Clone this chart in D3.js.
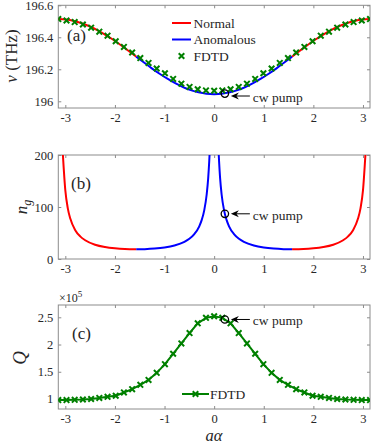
<!DOCTYPE html>
<html>
<head>
<meta charset="utf-8">
<script src="https://cdn.jsdelivr.net/npm/d3@7"></script>
<style>
  body { margin: 0; background: #fff; }
  svg text { font-family: "Liberation Serif", "DejaVu Serif", serif !important; fill: #262626; }
</style>
</head>
<body>
<div id="viz"></div>
<script>
// band diagram (a)
const bandAlpha = [-3.1416, -2.9845, -2.8274, -2.6704, -2.5133, -2.3562, -2.1991, -2.0420, -1.8850, -1.7279,
  -1.5708, -1.4137, -1.2566, -1.0996, -0.9425, -0.7854, -0.6283, -0.4712, -0.3142, -0.1571, 0,
  0.1571, 0.3142, 0.4712, 0.6283, 0.7854, 0.9425, 1.0996, 1.2566, 1.4137, 1.5708,
  1.7279, 1.8850, 2.0420, 2.1991, 2.3562, 2.5133, 2.6704, 2.8274, 2.9845, 3.1416];
const bandNu = [196.514, 196.511, 196.502, 196.488, 196.469, 196.445, 196.417, 196.386, 196.352, 196.316,
  196.279, 196.242, 196.206, 196.172, 196.141, 196.113, 196.089, 196.070, 196.056, 196.047, 196.044,
  196.047, 196.056, 196.070, 196.089, 196.113, 196.141, 196.172, 196.206, 196.242, 196.279,
  196.316, 196.352, 196.386, 196.417, 196.445, 196.469, 196.488, 196.502, 196.511, 196.514];

// FDTD samples (shared alpha grid for (a) and (c))
const fdtdAlpha = [-3.142, -2.976, -2.811, -2.646, -2.480, -2.315, -2.149, -1.984, -1.819, -1.653,
  -1.488, -1.323, -1.158, -0.992, -0.827, -0.661, -0.496, -0.331, -0.165, 0,
  0.165, 0.331, 0.496, 0.661, 0.827, 0.992, 1.158, 1.323, 1.488,
  1.653, 1.819, 1.984, 2.149, 2.315, 2.480, 2.646, 2.811, 2.976, 3.142];
const fdtdNu = [196.514, 196.505, 196.495, 196.480, 196.460, 196.435, 196.410, 196.375, 196.340, 196.305,
  196.270, 196.240, 196.205, 196.175, 196.140, 196.110, 196.090, 196.075, 196.068, 196.066,
  196.068, 196.075, 196.090, 196.110, 196.140, 196.175, 196.205, 196.240, 196.270,
  196.305, 196.340, 196.375, 196.410, 196.435, 196.460, 196.480, 196.495, 196.505, 196.514];
const fdtdQ = [0.98, 0.98, 0.985, 0.99, 1.00, 1.02, 1.04, 1.06, 1.12, 1.18,
  1.26, 1.35, 1.48, 1.64, 1.83, 2.02, 2.21, 2.39, 2.49, 2.52,
  2.49, 2.39, 2.21, 2.02, 1.83, 1.64, 1.48, 1.35, 1.26,
  1.18, 1.12, 1.06, 1.04, 1.02, 1.00, 0.99, 0.985, 0.98, 0.98];

// group index (b); null splits the two branches
const ngAlpha = [-3.049, -3.0, -2.95, -2.9, -2.8, -2.7, -2.6, -2.4, -2.2, -2.0, -1.8, -1.5708,
  -1.4, -1.2, -1.0, -0.8, -0.6, -0.5, -0.4, -0.3, -0.25, -0.2, -0.15, -0.12, -0.1, -0.093,
  null,
  0.093, 0.1, 0.12, 0.15, 0.2, 0.25, 0.3, 0.4, 0.5, 0.6, 0.8, 1.0, 1.2, 1.4,
  1.5708, 1.8, 2.0, 2.2, 2.4, 2.6, 2.7, 2.8, 2.9, 2.95, 3.0, 3.049];
const ngValue = [200, 131.8, 97.4, 77.8, 55.5, 43.5, 36.1, 27.5, 23.0, 20.5, 19.1, 18.6,
  18.9, 20.0, 22.1, 25.9, 32.9, 38.8, 47.8, 62.9, 75.2, 93.6, 124.5, 155.4, 186.4, 200,
  null,
  200, 186.4, 155.4, 124.5, 93.6, 75.2, 62.9, 47.8, 38.8, 32.9, 25.9, 22.1, 20.0, 18.9,
  18.6, 19.1, 20.5, 23.0, 27.5, 36.1, 43.5, 55.5, 77.8, 97.4, 131.8, 200];

const bandEdge = 1.5708;   // |alpha| above this is normal dispersion
const pump = { alpha: 0.216, nu: 196.048, ng: 86.9, q: 2.46 };

const xTicks = [-3, -2, -1, 0, 1, 2, 3];
const nuTicks = [196, 196.2, 196.4, 196.6];
const ngTicks = [0, 100, 200];
const qTicks = [1, 1.5, 2, 2.5];

const RED = "#ff0000", BLUE = "#0000ff", GREEN = "#008000";
const SERIF = '"Liberation Serif", "DejaVu Serif", serif';

const width = 374, height = 446;
const left = 58.3, right = 370;

const svg = d3.select("#viz").append("svg")
  .attr("width", width)
  .attr("height", height)
  .style("font-family", SERIF);

const x = d3.scaleLinear().domain([-Math.PI, Math.PI]).range([left, right]);
const tickFmt = v => String(v);   // plain hyphen minus like the original

// split consecutive points that pass a test into runs
function runs(xs, ys, test) {
  const out = [];
  let cur = [];
  xs.forEach((a, i) => {
    if (a !== null && ys[i] !== null && test(a)) {
      cur.push([a, ys[i]]);
    } else if (cur.length) {
      out.push(cur); cur = [];
    }
  });
  if (cur.length) out.push(cur);
  return out;
}

function makePanel(id, top, bottom, yDomain, yTickVals) {
  const y = d3.scaleLinear().domain(yDomain).range([bottom, top]);
  const g = svg.append("g");

  g.append("clipPath").attr("id", "clip-" + id)
    .append("rect")
    .attr("x", left).attr("y", top)
    .attr("width", right - left).attr("height", bottom - top);

  g.append("g").attr("transform", `translate(0,${bottom})`)
    .call(d3.axisBottom(x).tickValues(xTicks).tickFormat(tickFmt).tickSizeInner(-3).tickSizeOuter(0).tickPadding(5));
  g.append("g").attr("transform", `translate(0,${top})`)
    .call(d3.axisTop(x).tickValues(xTicks).tickSizeInner(-3).tickSizeOuter(0).tickFormat(""));
  g.append("g").attr("transform", `translate(${left},0)`)
    .call(d3.axisLeft(y).tickValues(yTickVals).tickFormat(tickFmt).tickSizeInner(-3).tickSizeOuter(0).tickPadding(5));
  g.append("g").attr("transform", `translate(${right},0)`)
    .call(d3.axisRight(y).tickValues(yTickVals).tickSizeInner(-3).tickSizeOuter(0).tickFormat(""));

  g.selectAll("g").attr("font-family", null).attr("font-size", null);
  g.selectAll(".domain").remove();
  g.selectAll(".tick line").attr("stroke", "#8c8c8c");
  g.selectAll(".tick text")
    .style("font-family", SERIF)
    .style("font-size", "12.5px")
    .attr("fill", "#262626");

  g.append("rect")
    .attr("x", left).attr("y", top)
    .attr("width", right - left).attr("height", bottom - top)
    .attr("fill", "none").attr("stroke", "#8c8c8c").attr("stroke-width", 1);

  const plot = g.append("g").attr("clip-path", `url(#clip-${id})`);
  return { y, g, plot };
}

function drawRuns(plot, y, xs, ys, test, color) {
  const line = d3.line().x(d => x(d[0])).y(d => y(d[1])).curve(d3.curveMonotoneX);
  runs(xs, ys, test).forEach(r => {
    plot.append("path").datum(r)
      .attr("d", line)
      .attr("fill", "none")
      .attr("stroke", color)
      .attr("stroke-width", 2);
  });
}

const cross = d3.symbol().type(d3.symbolX || d3.symbolCross).size(22);

function crosses(sel, pts, y) {
  sel.selectAll(null).data(pts).enter().append("path")
    .attr("d", cross)
    .attr("transform", d => `translate(${x(d[0])},${y(d[1])})`)
    .attr("fill", "none")
    .attr("stroke", GREEN)
    .attr("stroke-width", 2);
}

function label(g, lx, ly, size) {
  return g.append("text").attr("x", lx).attr("y", ly)
    .style("font-family", SERIF).style("font-size", size + "px");
}

function pumpMark(g, y, val, dy) {
  const px = x(pump.alpha), py = y(val);
  g.append("circle")
    .attr("cx", px).attr("cy", py).attr("r", 3.7)
    .attr("fill", "none").attr("stroke", "#000").attr("stroke-width", 1.3);
  const ay = py + dy;
  const tip = px + 6;
  g.append("line")
    .attr("x1", tip + 4).attr("y1", ay).attr("x2", px + 25).attr("y2", ay)
    .attr("stroke", "#000").attr("stroke-width", 1);
  g.append("path")
    .attr("d", `M${tip},${ay} L${tip + 8},${ay - 3.5} L${tip + 5.5},${ay} L${tip + 8},${ay + 3.5} Z`)
    .attr("fill", "#000");
  label(g, px + 28, ay + 6, 13.5).text("cw pump");
}

// ---- (a) dispersion ----
const pa = makePanel("a", 5.3, 108, [195.958, 196.6], nuTicks);
drawRuns(pa.plot, pa.y, bandAlpha, bandNu, a => Math.abs(a) >= bandEdge, RED);
drawRuns(pa.plot, pa.y, bandAlpha, bandNu, a => Math.abs(a) <= bandEdge, BLUE);
crosses(pa.plot, fdtdAlpha.map((a, i) => [a, fdtdNu[i]]), pa.y);
pumpMark(pa.g, pa.y, pump.nu, 2.4);
label(pa.g, 67, 41, 17).text("(a)");

// legend (a)
const legA = pa.g.append("g");
[["Normal", RED], ["Anomalous", BLUE]].forEach((d, i) => {
  const ly = 23 + i * 16.5;
  legA.append("line").attr("x1", 172).attr("x2", 191).attr("y1", ly).attr("y2", ly)
    .attr("stroke", d[1]).attr("stroke-width", 2);
  label(legA, 193.5, ly + 4.5, 13.5).text(d[0]);
});
legA.append("path").attr("d", cross).attr("transform", "translate(181.5,56)")
  .attr("fill", "none").attr("stroke", GREEN).attr("stroke-width", 2);
label(legA, 193.5, 60.5, 13.5).text("FDTD");

label(pa.g, 0, 0, 17)
  .attr("transform", "translate(17,56) rotate(-90)")
  .attr("text-anchor", "middle")
  .html('<tspan font-style="italic">ν</tspan>  (THz)');

// ---- (b) group index ----
const pb = makePanel("b", 155, 259, [0, 200], ngTicks);
drawRuns(pb.plot, pb.y, ngAlpha, ngValue, a => Math.abs(a) >= bandEdge, RED);
drawRuns(pb.plot, pb.y, ngAlpha, ngValue, a => Math.abs(a) <= bandEdge, BLUE);
pumpMark(pb.g, pb.y, pump.ng, 0);
label(pb.g, 71, 188.5, 17).text("(b)");

label(pb.g, 0, 0, 17)
  .attr("transform", "translate(27,207) rotate(-90)")
  .attr("text-anchor", "middle")
  .style("font-style", "italic")
  .html('n<tspan font-size="12px" dy="4">g</tspan>');

// ---- (c) quality factor ----
const pc = makePanel("c", 305, 409, [0.816, 2.726], qTicks);
const qLine = d3.line().x(d => x(d[0])).y(d => pc.y(d[1]));
const qPts = fdtdAlpha.map((a, i) => [a, fdtdQ[i]]);
pc.plot.append("path").datum(qPts)
  .attr("d", qLine)
  .attr("fill", "none").attr("stroke", GREEN).attr("stroke-width", 2);
crosses(pc.plot, qPts, pc.y);
pumpMark(pc.g, pc.y, pump.q, 0);
label(pc.g, 72, 338.5, 17).text("(c)");

label(pc.g, 59, 302, 12)
  .html('×10<tspan font-size="9px" dy="-5">5</tspan>');

// legend (c)
pc.g.append("line").attr("x1", 182).attr("x2", 209).attr("y1", 394).attr("y2", 394)
  .attr("stroke", GREEN).attr("stroke-width", 2);
pc.g.append("path").attr("d", cross).attr("transform", "translate(195.5,394)")
  .attr("fill", "none").attr("stroke", GREEN).attr("stroke-width", 2);
label(pc.g, 210, 398.5, 13.5).text("FDTD");

label(pc.g, 0, 0, 19)
  .attr("transform", "translate(26,358) rotate(-90)")
  .attr("text-anchor", "middle")
  .style("font-style", "italic")
  .text("Q");

label(svg, 214, 441, 16.5)
  .attr("text-anchor", "middle")
  .style("font-style", "italic")
  .text("aα");
</script>
</body>
</html>
